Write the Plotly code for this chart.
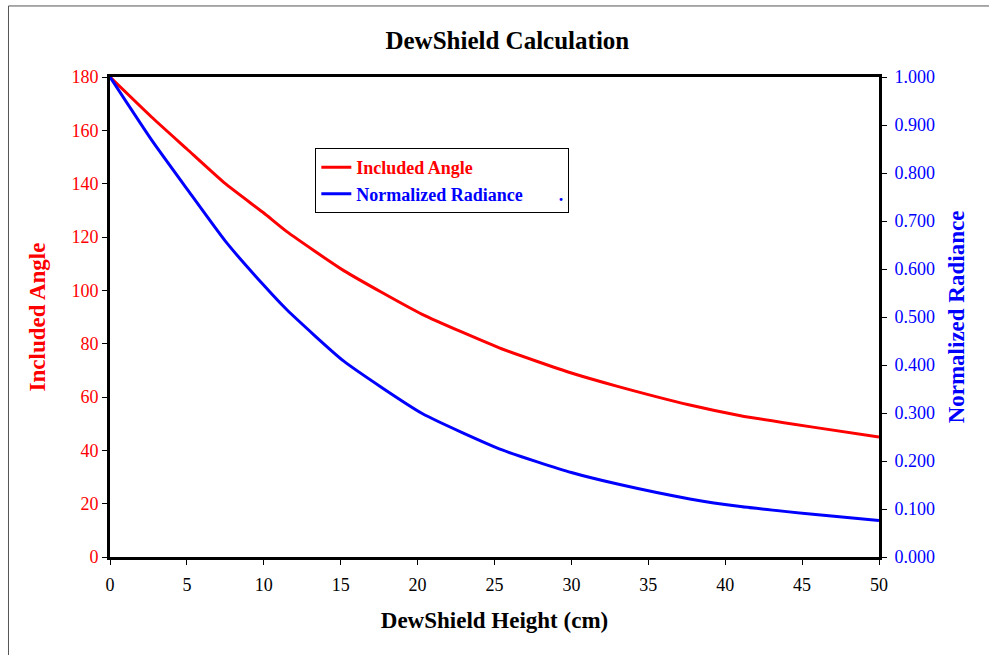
import plotly.graph_objects as go

# Dew shield height (cm) and the resulting included angle / radiance
height_cm = [0, 2.7, 5, 7.5, 10, 11.5, 15.2, 20.3, 25.5, 30, 33, 37.7, 41, 45.7, 50]
included_angle = [180, 165, 153, 140, 129, 122, 107.4, 91, 78, 69, 64, 57, 53, 48.7, 45]
normalized_radiance = [1.000, 0.869, 0.767, 0.658, 0.566, 0.515, 0.408, 0.299, 0.223,
                       0.176, 0.152, 0.121, 0.105, 0.089, 0.076]

angle_ticks = [0, 20, 40, 60, 80, 100, 120, 140, 160, 180]
radiance_ticks = [0.0, 0.1, 0.2, 0.3, 0.4, 0.5, 0.6, 0.7, 0.8, 0.9, 1.0]
height_ticks = [0, 5, 10, 15, 20, 25, 30, 35, 40, 45, 50]

SERIF = "Liberation Serif, Times New Roman, serif"
RED = "#ff0000"
BLUE = "#0000ff"

fig = go.Figure()
fig.add_trace(go.Scatter(
    x=height_cm, y=included_angle, mode="lines",
    line=dict(color=RED, width=3, shape="spline", smoothing=0.5),
    name='<span style="color:#ff0000"><b>Included Angle</b></span>',
))
fig.add_trace(go.Scatter(
    x=height_cm, y=normalized_radiance, mode="lines", yaxis="y2",
    line=dict(color=BLUE, width=3, shape="spline", smoothing=0.5),
    name='<span style="color:#0000ff"><b>Normalized Radiance'
         '\u00a0\u00a0\u00a0\u00a0\u00a0\u00a0\u00a0\u00a0.</b></span>',
))

fig.update_layout(
    width=989, height=655,
    margin=dict(l=110, r=110, t=77, b=98),
    paper_bgcolor="white", plot_bgcolor="white",
    font=dict(family=SERIF, size=18, color="black"),
    title=dict(text="<b>DewShield Calculation</b>", x=0.513, xanchor="center",
               y=0.938, yanchor="middle", font=dict(family=SERIF, size=25, color="black")),
    showlegend=True,
    legend=dict(x=0.267, y=0.852, xanchor="left", yanchor="top",
                bgcolor="white", bordercolor="black", borderwidth=1,
                font=dict(family=SERIF, size=18), tracegroupgap=0,
                itemwidth=30),
    xaxis=dict(range=[0, 50], tickvals=height_ticks, showgrid=False, zeroline=False,
               showline=True, linecolor="black", linewidth=3, mirror=True,
               ticks="outside", ticklen=5, tickcolor="black", tickwidth=1,
               ticklabelstandoff=4,
               tickfont=dict(family=SERIF, size=18, color="black"),
               title=dict(text="<b>DewShield Height (cm)</b>", standoff=19,
                          font=dict(family=SERIF, size=23, color="black"))),
    yaxis=dict(range=[0, 180], tickvals=angle_ticks, showgrid=False, zeroline=False,
               showline=True, linecolor="black", linewidth=3,
               ticks="outside", ticklen=5, tickcolor="black", tickwidth=1,
               tickfont=dict(family=SERIF, size=18, color=RED),
               title=dict(text="<b>Included Angle</b>", standoff=20,
                          font=dict(family=SERIF, size=23, color=RED))),
    yaxis2=dict(range=[0, 1], tickvals=radiance_ticks, tickformat=".3f",
                overlaying="y", side="right", showgrid=False, zeroline=False,
                showline=True, linecolor="black", linewidth=3,
                ticks="outside", ticklen=5, tickcolor="black", tickwidth=1,
                ticklabelstandoff=4,
                tickfont=dict(family=SERIF, size=18, color=BLUE),
                title=dict(text="<b>Normalized Radiance</b>", standoff=14,
                           font=dict(family=SERIF, size=23, color=BLUE))),
)

# Thin outer frame around the chart object
fig.add_shape(type="rect", xref="paper", yref="paper",
              x0=-0.132, x1=1.2, y0=-0.3, y1=1.148,
              line=dict(color="#555555", width=1), layer="below")

fig.write_html("out.html")
